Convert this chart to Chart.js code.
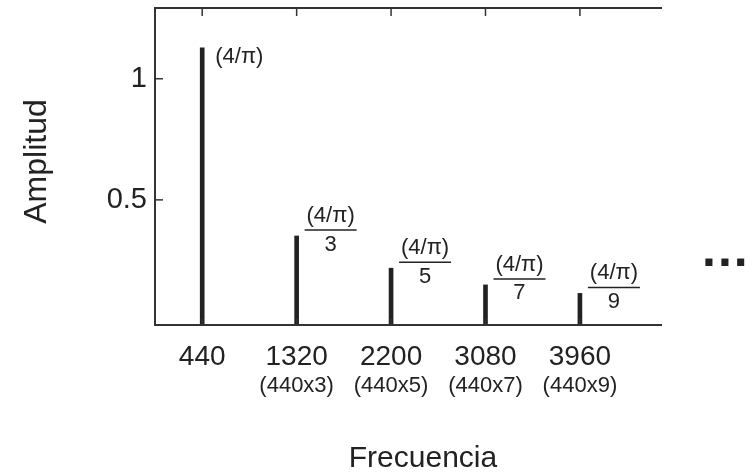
<!DOCTYPE html>
<html>
<head>
<meta charset="UTF-8">
<title>Espectro de frecuencia</title>
<script src="https://cdn.jsdelivr.net/npm/chart.js"></script>
<style>
  body { margin: 0; background: #fff; }
  #wrap { width: 752px; height: 475px; }
</style>
</head>
<body>
<div id="wrap"><canvas id="spectrum" width="752" height="475"></canvas></div>
<script>
// values
const frequencies = [440, 1320, 2200, 3080, 3960];
const amplitudes = [1.128, 0.351, 0.218, 0.149, 0.114];
const harmonicLabels = ['', '(440x3)', '(440x5)', '(440x7)', '(440x9)'];
const divisors = ['', '3', '5', '7', '9'];
const amplitudeTicks = [0.5, 1];
const coefLabel = '(4/\u03c0)';

const yMin = -0.0165, yMax = 1.292;
const FONT = "'Liberation Sans', Arial, sans-serif";
const INK = '#222';

function line(ctx, x1, y1, x2, y2) {
    ctx.beginPath();
    ctx.moveTo(x1, y1);
    ctx.lineTo(x2, y2);
    ctx.stroke();
}

// frame, inward ticks, labels over the bars, titles
const decor = {
    id: 'decor',
    afterDraw(chart) {
        const ctx = chart.ctx;
        const a = chart.chartArea;
        const x = chart.scales.x, y = chart.scales.y;
        ctx.save();

        // box is open on the right
        ctx.strokeStyle = '#333';
        ctx.lineWidth = 2;
        ctx.beginPath();
        ctx.moveTo(a.right, a.top);
        ctx.lineTo(a.left, a.top);
        ctx.lineTo(a.left, a.bottom);
        ctx.lineTo(a.right, a.bottom);
        ctx.stroke();

        ctx.lineWidth = 1.5;
        x.ticks.forEach(t => {
            const px = x.getPixelForValue(t.value);
            line(ctx, px, a.top, px, a.top + 8);
            line(ctx, px, a.bottom, px, a.bottom - 6);
        });
        y.ticks.forEach(t => {
            const py = y.getPixelForValue(t.value);
            line(ctx, a.left, py, a.left + 8, py);
        });

        ctx.fillStyle = INK;
        ctx.strokeStyle = INK;
        ctx.textBaseline = 'middle';

        // second line of the tick labels
        ctx.font = '22px ' + FONT;
        ctx.textAlign = 'center';
        frequencies.forEach((f, i) => {
            if (harmonicLabels[i]) ctx.fillText(harmonicLabels[i], x.getPixelForValue(f), a.bottom + 61);
        });

        // amplitude labels
        frequencies.forEach((f, i) => {
            const px = x.getPixelForValue(f);
            const top = y.getPixelForValue(amplitudes[i]);
            ctx.font = '22px ' + FONT;
            if (!divisors[i]) {
                ctx.textAlign = 'left';
                ctx.fillText(coefLabel, px + 13, top + 9);
                return;
            }
            const x0 = px + 8, w = 52, ly = top - 6;
            ctx.lineWidth = 1.5;
            line(ctx, x0, ly, x0 + w, ly);
            ctx.textAlign = 'center';
            ctx.fillText(coefLabel, x0 + w / 2, ly - 14);
            ctx.fillText(divisors[i], x0 + w / 2, ly + 14.5);
        });

        // axis titles
        ctx.font = '30px ' + FONT;
        ctx.textAlign = 'center';
        ctx.fillText('Frecuencia', a.left + 268, a.bottom + 134);
        ctx.save();
        ctx.translate(37.5, (a.top + a.bottom) / 2 - 5);
        ctx.rotate(-Math.PI / 2);
        ctx.font = '32px ' + FONT;
        ctx.fillText('Amplitud', 0, 0);
        ctx.restore();

        // continuation dots
        ctx.font = 'bold 50px ' + FONT;
        ctx.textAlign = 'left';
        ctx.textBaseline = 'alphabetic';
        ctx.letterSpacing = '2px';
        ctx.fillText('...', a.right + 40, 265.5);

        ctx.restore();
    }
};

const ctx = document.getElementById('spectrum').getContext('2d');
const chart = new Chart(ctx, {
    type: 'bar',
    data: {
        datasets: [{
            data: frequencies.map((f, i) => ({ x: f, y: amplitudes[i] })),
            backgroundColor: INK,
            borderWidth: 0,
            barThickness: 4,
            base: yMin
        }]
    },
    options: {
        responsive: false,
        animation: false,
        layout: { padding: { top: 8, right: 90, left: 0, bottom: 0 } },
        plugins: {
            legend: { display: false },
            tooltip: { enabled: false }
        },
        scales: {
            x: {
                type: 'linear',
                min: 0,
                max: 4725,
                offset: false,
                grid: { display: false, drawTicks: false, offset: false },
                border: { display: false },
                afterBuildTicks: s => { s.ticks = frequencies.map(v => ({ value: v })); },
                afterFit: s => { s.height = 150; s.paddingLeft = 0; s.paddingRight = 0; },
                ticks: {
                    autoSkip: false,
                    maxRotation: 0,
                    padding: 15,
                    color: INK,
                    font: { family: FONT, size: 28 },
                    callback: v => String(v)
                }
            },
            y: {
                min: yMin,
                max: yMax,
                grid: { display: false, drawTicks: false },
                border: { display: false },
                afterBuildTicks: s => { s.ticks = amplitudeTicks.map(v => ({ value: v })); },
                afterFit: s => { s.width = 155; s.paddingTop = 0; s.paddingBottom = 0; },
                ticks: {
                    padding: 8,
                    color: INK,
                    font: { family: FONT, size: 29 },
                    callback: v => String(v)
                }
            }
        }
    },
    plugins: [decor]
});
</script>
</body>
</html>
